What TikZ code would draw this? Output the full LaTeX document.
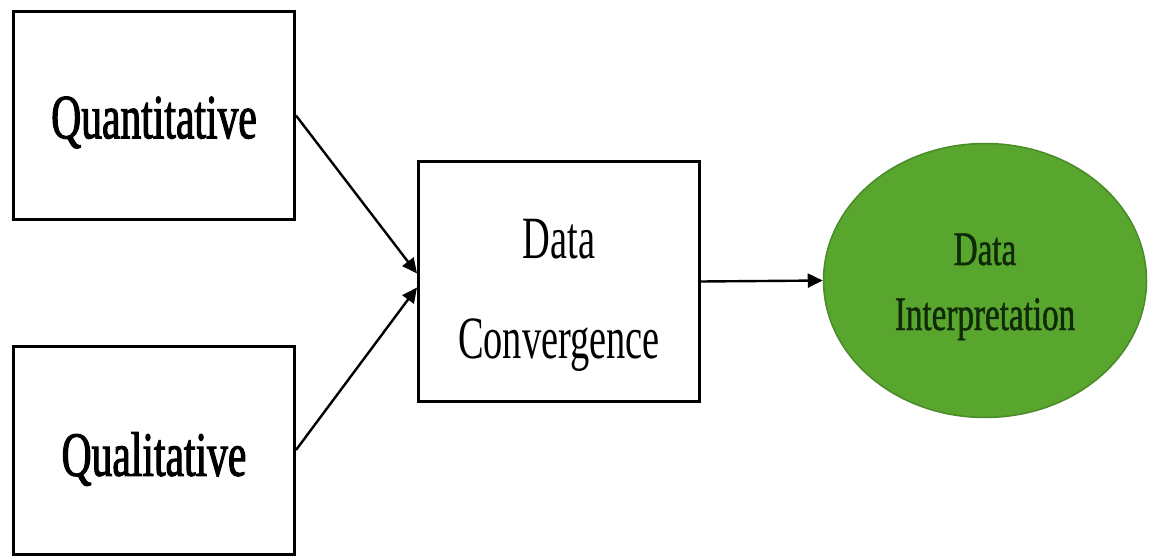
\documentclass[tikz,border=0pt]{standalone}
\usepackage{fontspec}
\setmainfont{Liberation Serif}[FakeStretch=0.64]
\newfontfamily\heavyfont{Liberation Serif}[FakeStretch=0.66,FakeBold=1.6]
\newfontfamily\midfont{Liberation Serif}[FakeStretch=0.69,FakeBold=1.0]
\usetikzlibrary{arrows.meta,shapes.geometric}
\definecolor{ellfill}{HTML}{58A62E}
\definecolor{elldraw}{HTML}{4A8A28}
\definecolor{elltext}{HTML}{102A08}
\newcommand{\lowertext}[2]{\raisebox{-#1}[\height][\depth]{#2}}
\tikzset{
  srcbox/.style={draw=black, line width=3pt, fill=white, minimum width=281pt, minimum height=208pt, inner sep=0pt, font=\heavyfont\fontsize{63}{70}\selectfont},
  convbox/.style={draw=black, line width=3pt, fill=white, minimum width=281pt, minimum height=240pt, inner sep=0pt, font=\fontsize{60}{100}\selectfont},
  interp/.style={ellipse, draw=elldraw, line width=1.5pt, fill=ellfill, minimum width=323pt, minimum height=274pt, inner sep=0pt, text=elltext, font=\midfont\fontsize{48}{65}\selectfont},
  conn/.style={line width=2.4pt, -{Triangle[length=15pt,width=14pt]}}
}
\begin{document}
\begin{tikzpicture}[x=1pt,y=-1pt]
\useasboundingbox (0,0) rectangle (1150,559);
\node[srcbox] (quant) at (154,115.5) {\lowertext{7pt}{Quantitative}};
\node[srcbox] (qual) at (154,450) {\lowertext{9pt}{Qualitative}};
\node[convbox] (conv) at (559,281.5) {\lowertext{7pt}{\begin{tabular}{@{}c@{}}Data\\Convergence\end{tabular}}};
\node[interp] (int) at (985,280.5) {\lowertext{4pt}{\begin{tabular}{@{}c@{}}Data\\Interpretation\end{tabular}}};
\draw[conn] (quant.east) -- ([yshift=8pt]conv.west);
\draw[conn] (qual.east) -- ([yshift=-6pt]conv.west);
\draw[conn] (conv.east) -- (int.west);
\end{tikzpicture}
\end{document}
